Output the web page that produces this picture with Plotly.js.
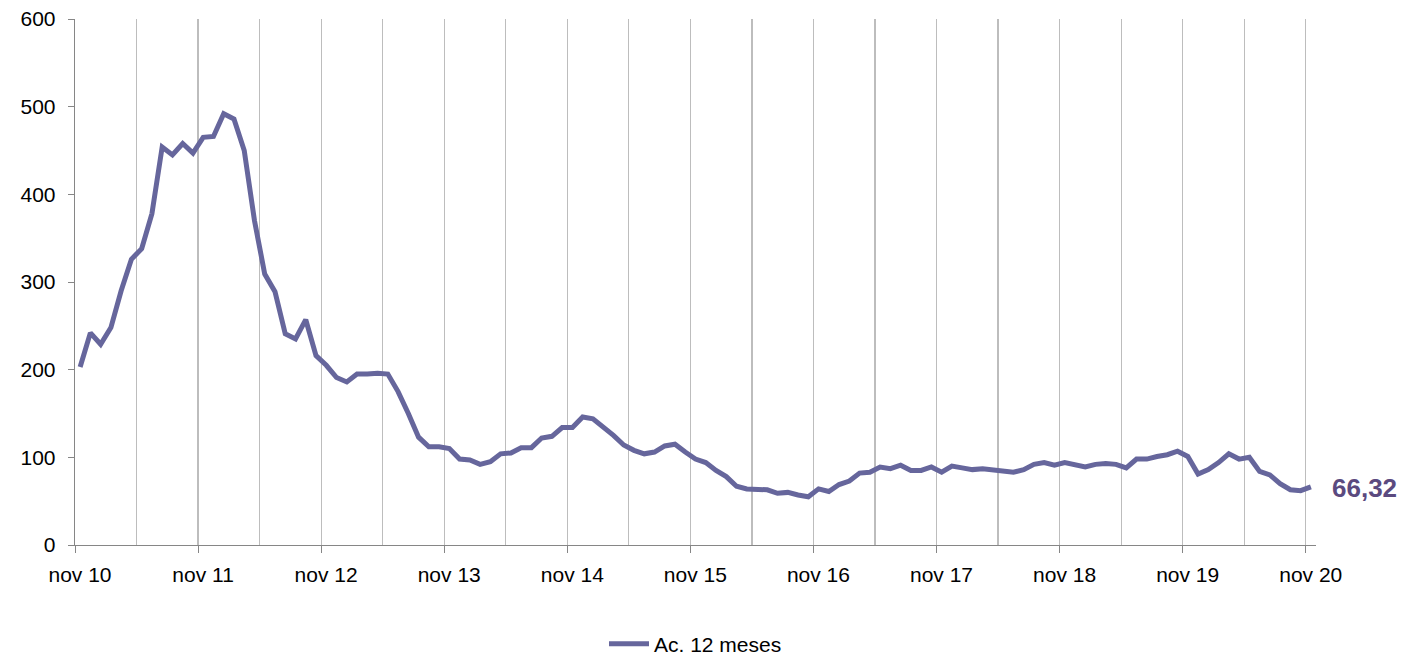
<!DOCTYPE html>
<html>
<head>
<meta charset="utf-8">
<script src="https://cdn.plot.ly/plotly-3.0.1.min.js"></script>
<style>
html,body{margin:0;padding:0;background:#fff;}
#chart{width:1408px;height:657px;}
</style>
</head>
<body>
<div id="chart"></div>
<script>
// Monthly series, nov 10 .. nov 20 (121 months)
const seriesName = "Ac. 12 meses";
const values = [
  203, 242, 229, 248, 290, 326, 338, 378, 454, 445, 458, 447,
  465, 466, 492, 486, 450, 370, 309, 289, 241, 235, 257, 216,
  205, 191, 186, 195, 195, 196, 195, 175, 150, 123, 112, 112,
  110, 98, 97, 92, 95, 104, 105, 111, 111, 122, 124, 134,
  134, 146, 144, 135, 125, 114, 108, 104, 106, 113, 115, 106,
  98, 94, 85, 78, 67, 64, 63, 63, 59, 60, 57, 55,
  64, 61, 69, 73, 82, 83, 89, 87, 91, 85, 85, 89,
  83, 90, 88, 86, 87, 86, 84, 83, 86, 92, 94, 91,
  94, 92, 89, 92, 93, 92, 88, 98, 98, 101, 103, 107,
  101, 81, 86, 94, 104, 98, 100, 84, 80, 70, 63, 62,
  66.32
];
const tickLabels = ["nov 10","nov 11","nov 12","nov 13","nov 14","nov 15",
                    "nov 16","nov 17","nov 18","nov 19","nov 20"];
const lastLabel = "66,32";
const yTicks = [0, 100, 200, 300, 400, 500, 600];

const xIdx = values.map((_, i) => i);
const n = values.length;
// ticks sit on the category boundary before each November
const majorVals = tickLabels.map((_, k) => k * 12 - 0.5);
const minorVals = tickLabels.map((_, k) => k * 12 + 5.5).filter(v => v < n - 0.5);

const lineColor = "#66669c";
const axisColor = "#868686";
const gridColor = "#bdbdbd";
const font = "Liberation Sans, Arial, sans-serif";

const trace = {
  x: xIdx, y: values, type: "scatter", mode: "lines", name: seriesName,
  line: {color: lineColor, width: 5, shape: "linear"},
  hoverinfo: "skip"
};

const layout = {
  width: 1408, height: 657,
  margin: {l: 75, r: 92, t: 19, b: 112, pad: 0, autoexpand: false},
  paper_bgcolor: "#fff", plot_bgcolor: "#fff",
  font: {family: font, size: 21, color: "#000"},
  showlegend: true,
  legend: {orientation: "h", x: 0.5, xanchor: "center", xref: "paper",
           y: 13 / 657, yref: "container", yanchor: "middle",
           itemwidth: 40,
           font: {family: font, size: 21, color: "#000"}, bgcolor: "rgba(0,0,0,0)"},
  xaxis: {
    range: [-0.5, n - 0.5], tickmode: "array", tickvals: majorVals, ticktext: tickLabels,
    ticks: "outside", ticklen: 7, tickcolor: axisColor, tickwidth: 1,
    ticklabelshift: 5, ticklabelstandoff: 3,
    showline: true, linecolor: axisColor, linewidth: 1.3,
    showgrid: true, gridcolor: gridColor, gridwidth: 1.2,
    minor: {tickmode: "array", tickvals: minorVals, ticks: "", showgrid: true, gridcolor: gridColor, gridwidth: 1.2},
    zeroline: false, fixedrange: true, automargin: false,
    tickfont: {family: font, size: 21, color: "#000"}
  },
  yaxis: {
    range: [0, 600], tickmode: "array", tickvals: yTicks,
    ticks: "outside", ticklen: 6, tickcolor: axisColor, tickwidth: 1,
    ticklabelstandoff: 8,
    showline: true, linecolor: axisColor, linewidth: 1.3,
    showgrid: false, zeroline: false, fixedrange: true, automargin: false,
    tickfont: {family: font, size: 21, color: "#000"}
  },
  annotations: [{
    x: n - 1, y: values[n - 1], xref: "x", yref: "y",
    text: "<b>" + lastLabel + "</b>", showarrow: false,
    xanchor: "left", yanchor: "middle", xshift: 19, yshift: -1,
    font: {family: font, size: 26, color: "#5b4a7f"}
  }]
};

Plotly.newPlot("chart", [trace], layout, {displayModeBar: false, staticPlot: true});
</script>
</body>
</html>
